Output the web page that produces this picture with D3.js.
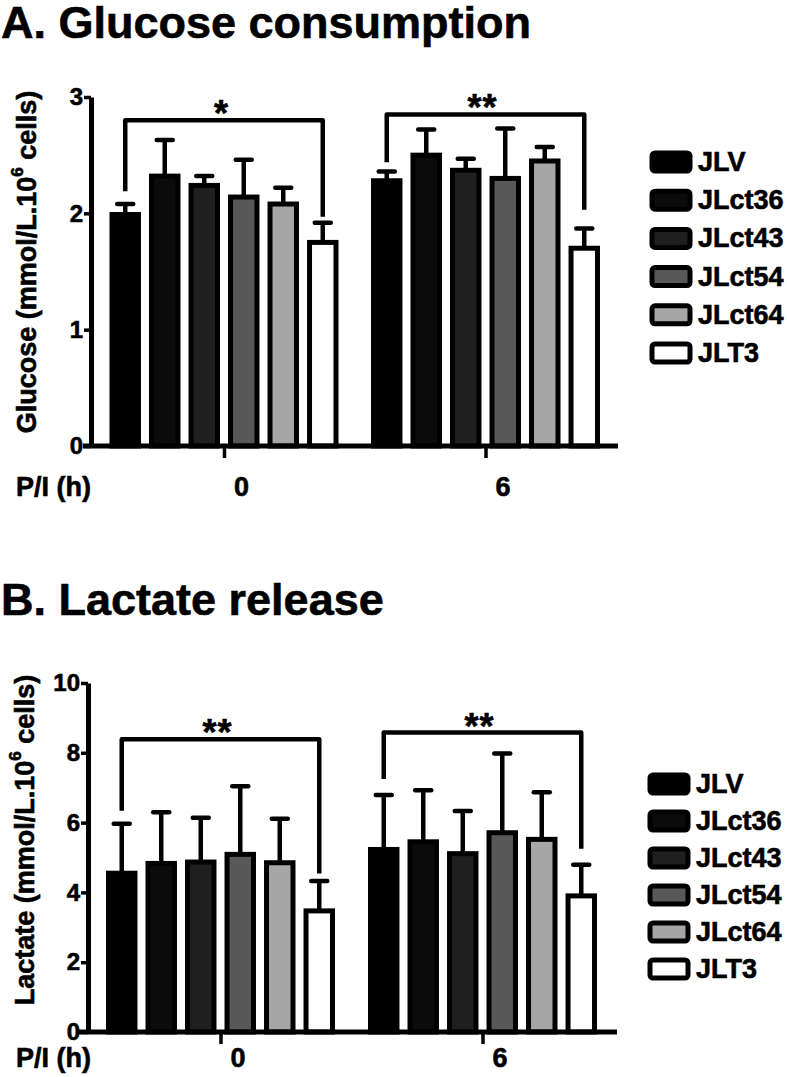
<!DOCTYPE html>
<html>
<head>
<meta charset="utf-8">
<script src="https://cdn.jsdelivr.net/npm/d3@7"></script>
<style>
  html, body { margin: 0; padding: 0; background: #fff; }
  svg { display: block; font-family: "Liberation Sans", Arial, sans-serif; font-weight: bold; }
  svg text { stroke: #000; stroke-width: 0.6px; }
</style>
</head>
<body>
<svg id="chart" width="787" height="1077"></svg>
<script>
// ---- data ----
const series = ["JLV", "JLct36", "JLct43", "JLct54", "JLct64", "JLT3"];
const groups = ["0", "6"];
const seriesColors = ["#000000", "#0b0b0b", "#1f1f1f", "#585858", "#a6a6a6", "#ffffff"];

const glucose0 = [1.99, 2.32, 2.24, 2.14, 2.08, 1.75];
const glucoseErr0 = [0.09, 0.31, 0.08, 0.32, 0.14, 0.17];
const glucose6 = [2.28, 2.50, 2.37, 2.30, 2.45, 1.70];
const glucoseErr6 = [0.08, 0.22, 0.10, 0.43, 0.12, 0.17];
const glucoseTicks = [0, 1, 2, 3];

const lactate0 = [4.55, 4.83, 4.87, 5.09, 4.85, 3.47];
const lactateErr0 = [1.42, 1.47, 1.27, 1.95, 1.26, 0.86];
const lactate6 = [5.23, 5.45, 5.11, 5.71, 5.52, 3.90];
const lactateErr6 = [1.56, 1.48, 1.22, 2.27, 1.35, 0.89];
const lactateTicks = [0, 2, 4, 6, 8, 10];

// significance brackets: [top, left leg end, right leg end] in data units
const glucoseSig = [{g: "0", label: "*", top: 2.80, l: 2.19, r: 1.97}, {g: "6", label: "**", top: 2.85, l: 2.44, r: 2.03}];
const lactateSig = [{g: "0", label: "**", top: 8.39, l: 6.34, r: 4.54}, {g: "6", label: "**", top: 8.58, l: 7.25, r: 5.25}];

const svg = d3.select("#chart");
svg.append("rect").attr("width", 787).attr("height", 1077).attr("fill", "#fff");

function panel(cfg) {
  const g = svg.append("g");
  const y = d3.scaleLinear().domain(cfg.yDomain).range(cfg.yRange);
  const x0 = d3.scalePoint().domain(groups).range(cfg.groupCenters);
  const x1 = d3.scaleBand().domain(series).range([-112, 112]).paddingInner(0.33);
  const color = d3.scaleOrdinal().domain(series).range(seriesColors);

  // title
  g.append("text").attr("x", 1).attr("y", cfg.titleY)
    .attr("font-size", 45).text(cfg.title);

  const data = [];
  groups.forEach((gr, gi) => {
    series.forEach((s, si) => {
      data.push({g: gr, s: s, v: cfg.values[gi][si], e: cfg.errs[gi][si]});
    });
  });

  // error bars (upward only)
  const eb = g.append("g");
  eb.selectAll("line.err").data(data).join("line")
    .attr("x1", d => x0(d.g) + x1(d.s) + x1.bandwidth() / 2)
    .attr("x2", d => x0(d.g) + x1(d.s) + x1.bandwidth() / 2)
    .attr("y1", d => y(d.v)).attr("y2", d => y(d.v + d.e))
    .attr("stroke", "#000").attr("stroke-width", 4.5);
  eb.selectAll("line.cap").data(data).join("line")
    .attr("x1", d => x0(d.g) + x1(d.s) + x1.bandwidth() / 2 - 8)
    .attr("x2", d => x0(d.g) + x1(d.s) + x1.bandwidth() / 2 + 8)
    .attr("y1", d => y(d.v + d.e)).attr("y2", d => y(d.v + d.e))
    .attr("stroke", "#000").attr("stroke-width", 4.5).attr("stroke-linecap", "round");

  // bars
  g.append("g").selectAll("rect").data(data).join("rect")
    .attr("x", d => x0(d.g) + x1(d.s))
    .attr("y", d => y(d.v))
    .attr("width", x1.bandwidth())
    .attr("height", d => y(0) - y(d.v))
    .attr("fill", d => color(d.s))
    .attr("stroke", "#000").attr("stroke-width", 5);

  // significance brackets
  const cx = (gr, s) => x0(gr) + x1(s) + x1.bandwidth() / 2;
  const sig = g.append("g");
  sig.selectAll("path").data(cfg.sig).join("path")
    .attr("d", d => {
      const xl = cx(d.g, series[0]), xr = cx(d.g, series[series.length - 1]);
      return `M${xl},${y(d.l)}L${xl},${y(d.top)}L${xr},${y(d.top)}L${xr},${y(d.r)}`;
    })
    .attr("fill", "none").attr("stroke", "#000").attr("stroke-width", 4.5)
    .attr("stroke-linejoin", "round");
  sig.selectAll("text").data(cfg.sig).join("text")
    .attr("x", d => (cx(d.g, series[0]) + cx(d.g, series[series.length - 1])) / 2 - 3)
    .attr("y", d => y(d.top) + 6)
    .attr("text-anchor", "middle").attr("font-size", 36)
    .attr("letter-spacing", d => d.label.length > 1 ? 1 : 0)
    .text(d => d.label);

  // y axis
  const ya = g.append("g").attr("transform", `translate(${cfg.axisX},0)`)
    .call(d3.axisLeft(y).tickValues(cfg.ticks).tickSize(7).tickSizeOuter(0).tickPadding(1).tickFormat(d3.format("d")));
  ya.select(".domain").attr("stroke", "#000").attr("stroke-width", 5);
  ya.selectAll(".tick line").attr("stroke", "#000").attr("stroke-width", 3.5);
  ya.selectAll(".tick text").attr("font-size", 24).attr("font-family", "Liberation Sans, Arial, sans-serif")
    .attr("font-weight", "bold").attr("fill", "#000");

  // x baseline
  g.append("line").attr("x1", cfg.baseX[0]).attr("x2", cfg.baseX[1])
    .attr("y1", y(0)).attr("y2", y(0)).attr("stroke", "#000").attr("stroke-width", 5);

  // x ticks & labels
  const xa = g.append("g").attr("transform", `translate(0,${y(0)})`)
    .call(d3.axisBottom(x0).tickSize(12).tickSizeOuter(0).tickPadding(0));
  xa.select(".domain").remove();
  xa.selectAll(".tick line").attr("stroke", "#000").attr("stroke-width", 3.5);
  xa.selectAll(".tick text")
    .attr("font-size", 27).attr("font-family", "Liberation Sans, Arial, sans-serif")
    .attr("font-weight", "bold").attr("fill", "#000")
    .attr("dx", 17).attr("dy", 0)
    .attr("y", cfg.xLabelY - y(0));
  g.append("text").attr("x", 16).attr("y", cfg.xLabelY).attr("font-size", 27).text("P/I (h)");

  // y axis title
  const yt = g.append("text")
    .attr("transform", `translate(${cfg.yTitleX},${cfg.yTitleY}) rotate(-90)`)
    .attr("text-anchor", "middle").attr("dominant-baseline", "central")
    .attr("font-size", 27);
  yt.append("tspan").text(cfg.yTitle + " (mmol/L.10");
  yt.append("tspan").attr("font-size", 17).attr("dy", -10).text("6");
  yt.append("tspan").attr("dy", 10).text(" cells)");

  // legend
  const ly = d3.scalePoint().domain(series).range(cfg.legendY);
  const lg = g.append("g");
  lg.selectAll("rect").data(series).join("rect")
    .attr("x", cfg.legendX).attr("y", d => ly(d) - 9)
    .attr("width", 38).attr("height", 18).attr("rx", 3)
    .attr("fill", d => color(d)).attr("stroke", "#000").attr("stroke-width", 5);
  lg.selectAll("text").data(series).join("text")
    .attr("x", cfg.legendX + 46).attr("y", d => ly(d))
    .attr("dominant-baseline", "central").attr("font-size", 27)
    .text(d => d);
}

panel({
  title: "A. Glucose consumption", titleY: 38,
  yDomain: [0, 3], yRange: [446, 97], ticks: glucoseTicks,
  values: [glucose0, glucose6], errs: [glucoseErr0, glucoseErr6],
  sig: glucoseSig,
  groupCenters: [224, 485.5], axisX: 91, baseX: [83, 618],
  xLabelY: 496, yTitle: "Glucose", yTitleX: 27, yTitleY: 262,
  legendX: 652, legendY: [162, 353]
});

panel({
  title: "B. Lactate release", titleY: 615,
  yDomain: [0, 10], yRange: [1032, 683], ticks: lactateTicks,
  values: [lactate0, lactate6], errs: [lactateErr0, lactateErr6],
  sig: lactateSig,
  groupCenters: [220.5, 482.5], axisX: 88, baseX: [78, 617],
  xLabelY: 1067, yTitle: "Lactate", yTitleX: 25, yTitleY: 840,
  legendX: 650, legendY: [784, 969]
});
</script>
</body>
</html>
